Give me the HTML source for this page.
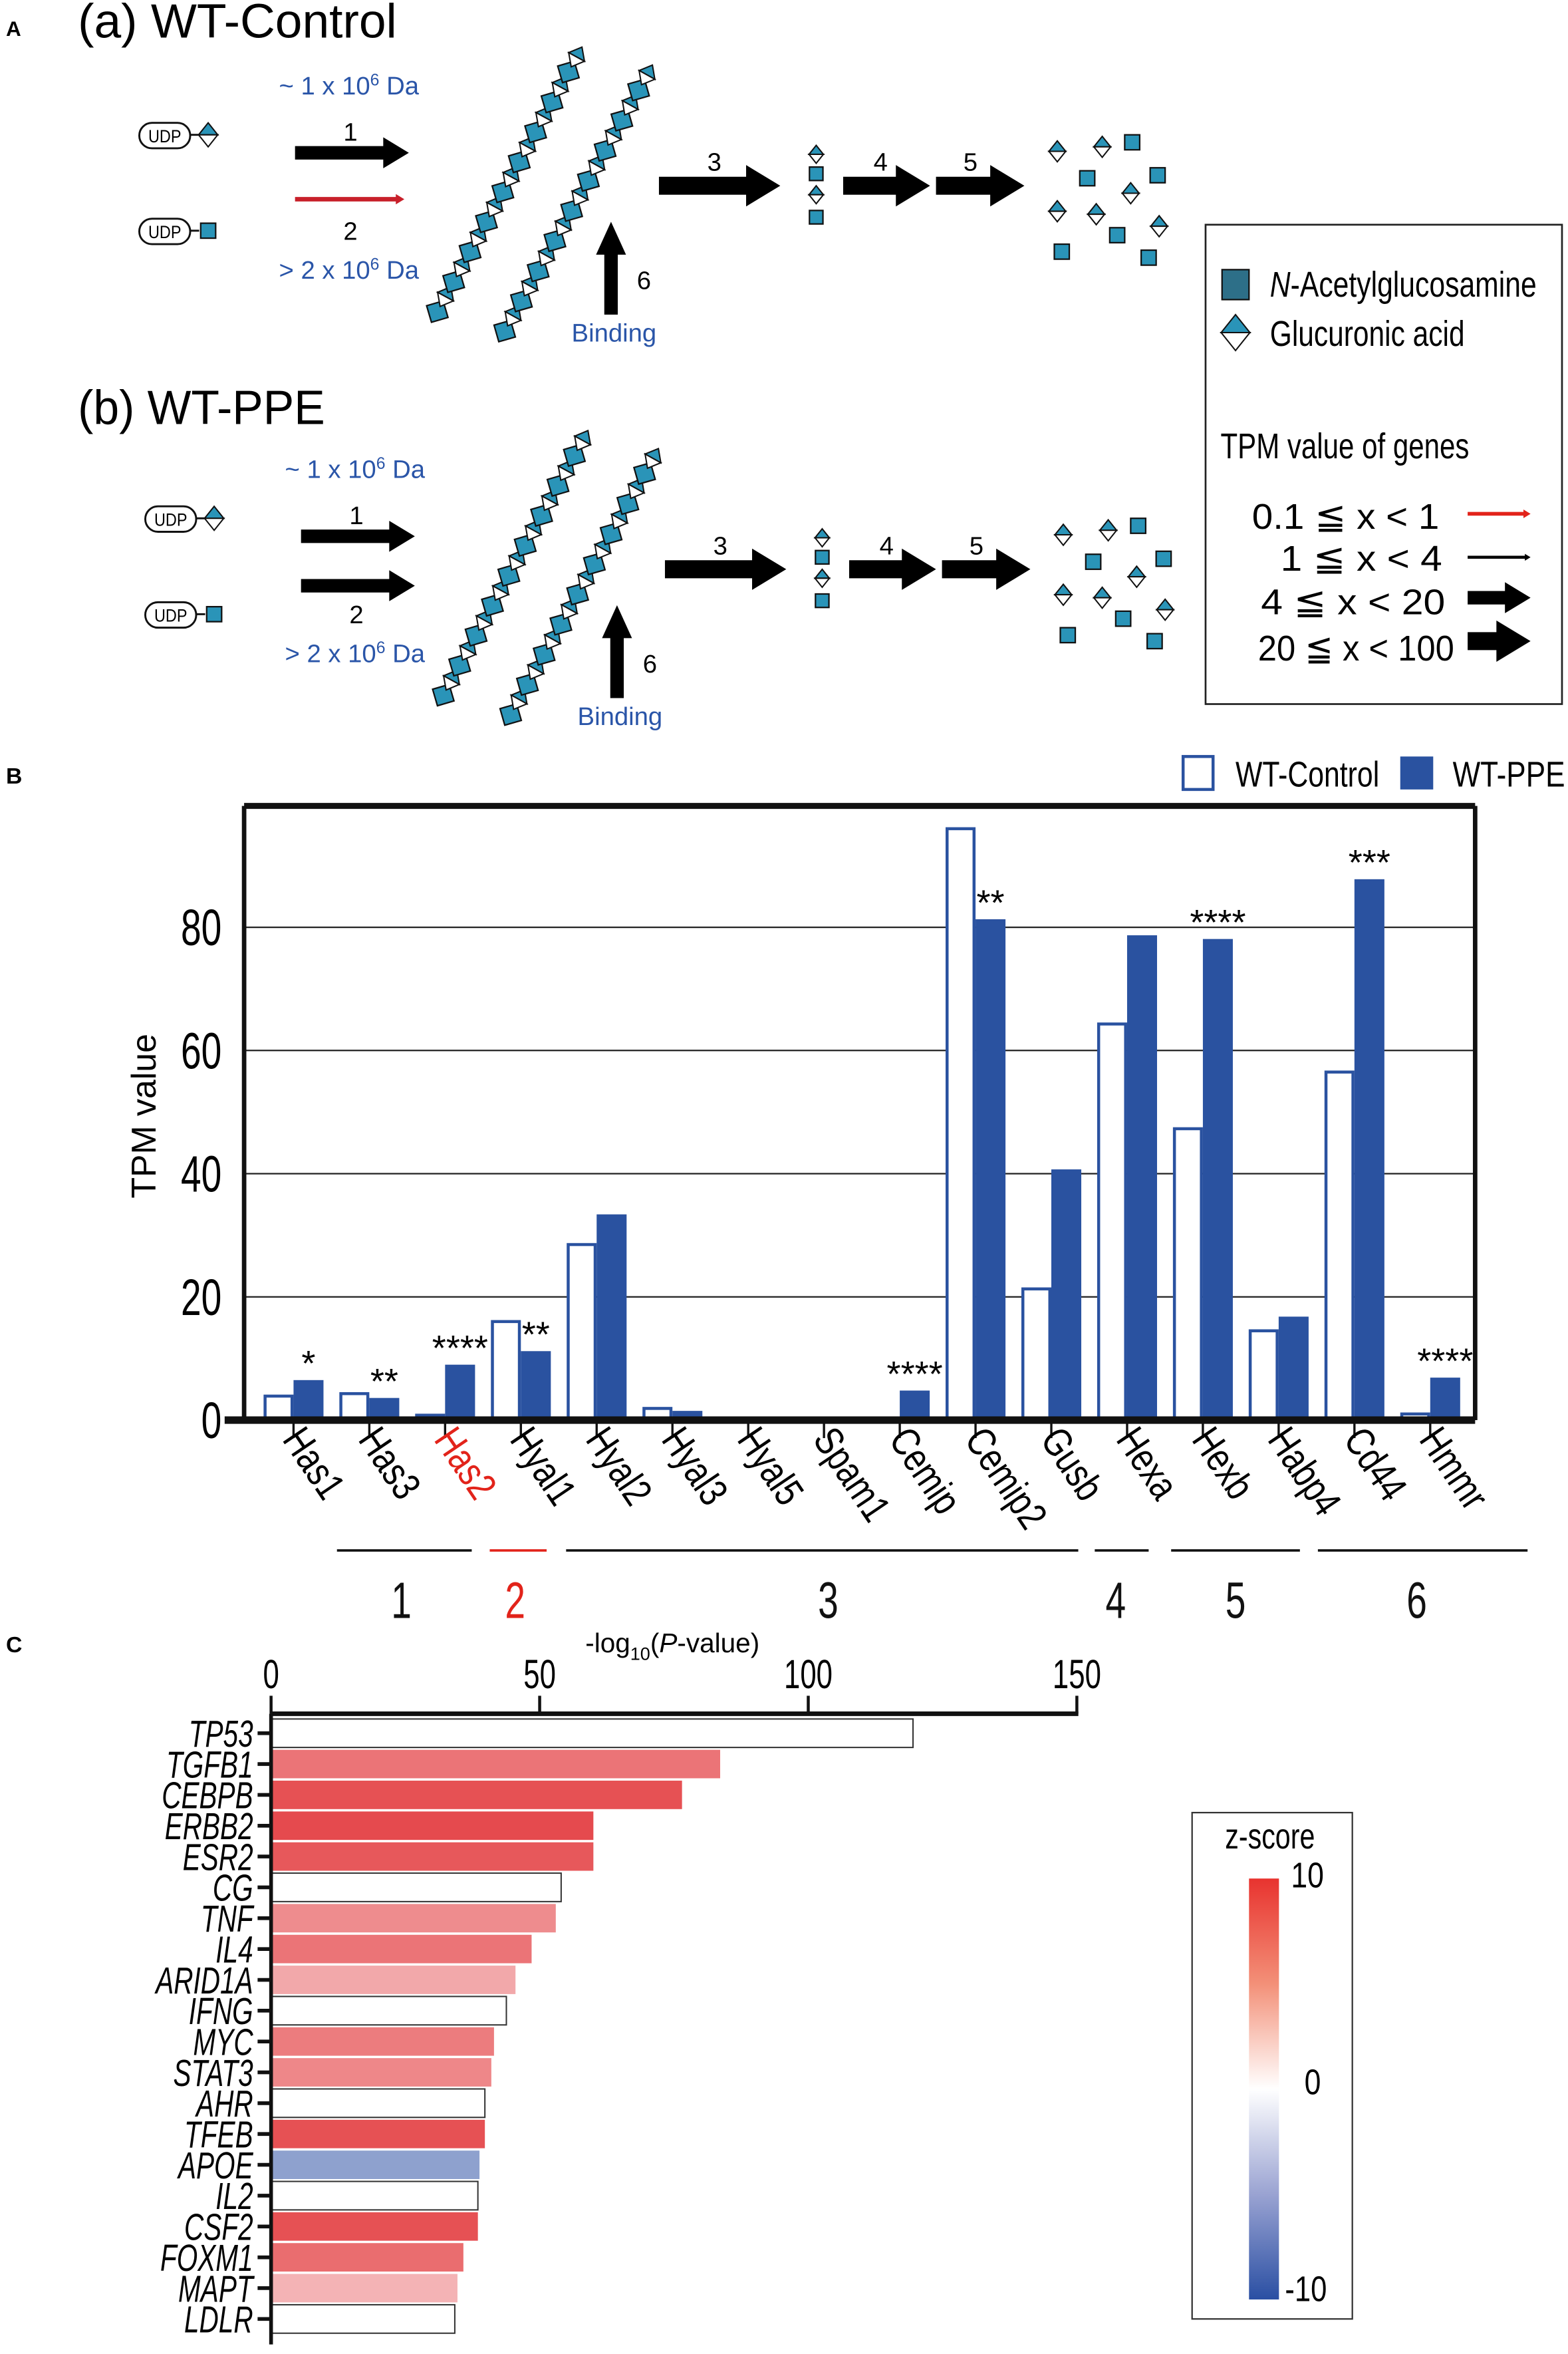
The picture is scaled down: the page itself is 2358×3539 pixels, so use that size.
<!DOCTYPE html>
<html><head><meta charset="utf-8">
<style>
html,body{margin:0;padding:0;background:#fff}
svg{display:block}
text{font-family:"Liberation Sans",sans-serif}
</style></head>
<body>
<svg id="fig" width="2358" height="3539" viewBox="0 0 1047 1571.4" xmlns="http://www.w3.org/2000/svg">
<g id="panelA">
<text x="4" y="24" font-size="14" font-weight="bold">A</text>
<text x="52" y="25" font-size="32" textLength="213" lengthAdjust="spacingAndGlyphs">(a) WT-Control</text>
<text x="52" y="283" font-size="32" textLength="165" lengthAdjust="spacingAndGlyphs">(b) WT-PPE</text>
<g id="legendA">
<rect x="805" y="150" width="238" height="320" fill="none" stroke="#222" stroke-width="1.2"/>
<rect x="816" y="180" width="18" height="20" fill="#2d6f88" stroke="#111" stroke-width="1"/>
<text x="848" y="198" font-size="24" textLength="178" lengthAdjust="spacingAndGlyphs"><tspan font-style="italic">N</tspan>-Acetylglucosamine</text>
<text x="848" y="231" font-size="24" textLength="130" lengthAdjust="spacingAndGlyphs">Glucuronic acid</text>
<text x="815" y="306" font-size="24" textLength="166" lengthAdjust="spacingAndGlyphs">TPM value of genes</text>
<text x="836" y="353" font-size="24" textLength="125" lengthAdjust="spacingAndGlyphs">0.1 ≦ x &lt;  1</text>
<text x="855" y="381" font-size="24" textLength="108" lengthAdjust="spacingAndGlyphs">1 ≦ x &lt;  4</text>
<text x="842" y="410" font-size="24" textLength="123" lengthAdjust="spacingAndGlyphs">4 ≦ x &lt; 20</text>
<text x="840" y="441" font-size="24" textLength="131" lengthAdjust="spacingAndGlyphs">20 ≦ x &lt; 100</text>
</g>
</g>
<g id="panelB">
<text x="4" y="523" font-size="15" font-weight="bold">B</text>
<rect x="790" y="505" width="20" height="22" fill="#fff" stroke="#2a52a0" stroke-width="2"/>
<text x="825" y="525" font-size="24" textLength="96" lengthAdjust="spacingAndGlyphs">WT-Control</text>
<rect x="935" y="505" width="22" height="22" fill="#2a52a0"/>
<text x="970" y="525" font-size="24" textLength="75" lengthAdjust="spacingAndGlyphs">WT-PPE</text>
<text transform="translate(104,745) rotate(-90)" text-anchor="middle" font-size="23">TPM value</text>
</g>
<g id="panelC">
<text x="4" y="1103" font-size="15" font-weight="bold">C</text>
<text x="449" y="1103" text-anchor="middle" font-size="18">-log<tspan font-size="12" dy="5">10</tspan><tspan dy="-5">(</tspan><tspan font-style="italic">P</tspan>-value)</text>
<defs><linearGradient id="zg" x1="0" y1="0" x2="0" y2="1">
<stop offset="0" stop-color="#e8332f"/><stop offset="0.25" stop-color="#f39078"/><stop offset="0.5" stop-color="#ffffff"/><stop offset="0.75" stop-color="#9aa3d2"/><stop offset="1" stop-color="#2a4fa3"/></linearGradient></defs>
<rect x="796" y="1210" width="107" height="338" fill="none" stroke="#333" stroke-width="1"/>
<text x="818" y="1234" font-size="24" textLength="60" lengthAdjust="spacingAndGlyphs">z-score</text>
<rect x="834" y="1254" width="20" height="281" fill="url(#zg)"/>
<text x="862" y="1260" font-size="24" textLength="22" lengthAdjust="spacingAndGlyphs">10</text>
<text x="871" y="1398" font-size="24" textLength="11" lengthAdjust="spacingAndGlyphs">0</text>
<text x="858" y="1536" font-size="24" textLength="28" lengthAdjust="spacingAndGlyphs">-10</text>
</g>
</svg>
<script>
const NS='http://www.w3.org/2000/svg';
const svg=document.getElementById('fig');
function mk(parent,tag,attrs,txt){const e=document.createElementNS(NS,tag);for(const k in attrs)e.setAttribute(k,attrs[k]);if(txt!==undefined)e.textContent=txt;parent.appendChild(e);return e;}
const TEAL='#2a94b8';

const pA=document.getElementById('panelA');
function diamond(g,cx,cy,s,rot){
  const grp=mk(g,'g',{transform:`translate(${cx},${cy}) rotate(${rot||0})`});
  
  
  mk(grp,'path',{d:`M${-s*0.8},0 L0,${-s} L${s*0.8},0 Z`,fill:TEAL,stroke:'#111','stroke-width':0.9});
  mk(grp,'path',{d:`M${-s*0.8},0 L0,${s} L${s*0.8},0 Z`,fill:'#fff',stroke:'#111','stroke-width':0.9});
}
function square(g,cx,cy,s,rot){
  const r=mk(g,'rect',{x:cx-s/2,y:cy-s/2,width:s,height:s,fill:TEAL,stroke:'#111','stroke-width':1,transform:`rotate(${rot||0},${cx},${cy})`});
  
  
}
function harrow(g,x1,x2,y,t,color,name){
  const hl=t*1.9, hh=t*2.3;
  const p=mk(g,'path',{d:`M${x1},${y-t/2} L${x2-hl},${y-t/2} L${x2-hl},${y-hh/2} L${x2},${y} L${x2-hl},${y+hh/2} L${x2-hl},${y+t/2} L${x1},${y+t/2} Z`,fill:color});
  
  
}
function varrow(g,x,y1,y2,t,name){
  const hl=22, hh=20;
  const p=mk(g,'path',{d:`M${x-t/2},${y1} L${x-t/2},${y2+hl} L${x-hh/2},${y2+hl} L${x},${y2} L${x+hh/2},${y2+hl} L${x+t/2},${y2+hl} L${x+t/2},${y1} Z`,fill:'#000'});
  
  
}
function label(g,x,y,s,txt,color,name,anchor){
  const t=mk(g,'text',{x:x,y:y,'font-size':s,fill:color||'#000','text-anchor':anchor||'middle'},txt);
  
  
  return t;
}
function udp(g,x,y,kind){
  const grp=mk(g,'g',{});
  
  
  mk(grp,'rect',{x:x,y:y-8,width:34,height:17,rx:8.5,fill:'#fff',stroke:'#111','stroke-width':1.3});
  mk(grp,'text',{x:x+17,y:y+5,'font-size':12,'text-anchor':'middle',textLength:22,lengthAdjust:'spacingAndGlyphs'},'UDP');
  mk(grp,'line',{x1:x+34,y1:y,x2:x+40,y2:y,stroke:'#111','stroke-width':1.3});
  if(kind==='d') diamond(grp,x+46,y,8,0); else square(grp,x+46,y,10,0);
}
function chain(g,x1,y1,x2,y2,n){
  const ang=Math.atan2(y2-y1,x2-x1)*180/Math.PI;
  mk(g,'line',{x1:x1,y1:y1,x2:x2,y2:y2,stroke:'#111','stroke-width':1});
  for(let i=0;i<n;i++){
    const f=i/(n-1), cx=x1+(x2-x1)*f, cy=y1+(y2-y1)*f;
    if(i%2===0) square(g,cx,cy,11.5,ang+45); else diamond(g,cx,cy,7.5,ang+90);
  }
}
const scatD=[[706,101],[736,98],[755,129],[706,141],[732,143],[774,151]];
const scatS=[[756,95],[726,119],[773,117],[746,157],[709,168],[767,172]];
function drawPathway(dx,dy,arrow2Black){
  const g=mk(pA,'g',{transform:`translate(${dx},${dy})`});
  
  
  udp(g,93,90,'d'); udp(g,93,154,'s');
  const t1=label(g,233,63,17,'','#2a55a8','mw-label-high');
  t1.innerHTML='~ 1 x 10<tspan font-size="11" dy="-6">6</tspan><tspan dy="6"> Da</tspan>';
  const t2=label(g,233,186,17,'','#2a55a8','mw-label-low');
  t2.innerHTML='&gt; 2 x 10<tspan font-size="11" dy="-6">6</tspan><tspan dy="6"> Da</tspan>';
  label(g,234,94,17,'1','#000','step-1-label');
  harrow(g,197,273,102,9,'#000','arrow-step-1');
  if(arrow2Black) harrow(g,197,273,135,9,'#000','arrow-step-2'); else harrow(g,197,270,133,3,'#c8202a','arrow-step-2');
  label(g,234,160,17,'2','#000','step-2-label');
  chain(g,292,208,385,38,18);
  chain(g,337,221,432,50,18);
  varrow(g,408,210,148,9,'arrow-step-6');
  label(g,430,193,17,'6','#000','step-6-label');
  label(g,410,228,17,'Binding','#2a55a8','binding-label');
  harrow(g,440,521,124,12,'#000','arrow-step-3');
  label(g,477,114,17,'3','#000','step-3-label');
  diamond(g,545,103,6,0); square(g,545,116,9,0); diamond(g,545,130,6,0); square(g,545,145,9,0);
  harrow(g,563,621,124,12,'#000','arrow-step-4');
  label(g,588,114,17,'4','#000','step-4-label');
  harrow(g,625,684,124,12,'#000','arrow-step-5');
  label(g,648,114,17,'5','#000','step-5-label');
  scatD.forEach(p=>diamond(g,p[0],p[1],7,0));
  scatS.forEach(p=>square(g,p[0],p[1],10,0));
}
drawPathway(0,0,false);
drawPathway(4,256,true);
const lg=document.getElementById('legendA');
diamond(lg,825,222,12,0);
harrow(lg,980,1022,343,2.5,'#e2231a','legend-arrow-1');
harrow(lg,980,1022,372,2,'#000','legend-arrow-2');
harrow(lg,980,1022,399,9,'#000','legend-arrow-3');
harrow(lg,980,1022,428,12,'#000','legend-arrow-4');

// ---------- Panel B chart ----------
const genes=['Has1','Has3','Has2','Hyal1','Hyal2','Hyal3','Hyal5','Spam1','Cemip','Cemip2','Gusb','Hexa','Hexb','Habp4','Cd44','Hmmr'];
const controlTPM=[3.9,4.3,0.8,16,28.5,1.9,0,0,0,96,21.3,64.3,47.3,14.5,56.5,1.0];
const ppeTPM=[6.5,3.6,9,11.2,33.4,1.5,0,0,4.8,81.3,40.7,78.7,78.1,16.8,87.8,6.9];
const stars=['*','**','****','**','','','','','****','**','','','****','','***','****'];
const yTicks=[0,20,40,60,80];
const groupNames=['1','2','3','4','5','6'];

const pB=document.getElementById('panelB');
const bx0=163,bx1=985,by0=948,byTop=538;
const yB=v=>by0-v*(948-619)/80;
const xB=i=>196+i*50.6;
yTicks.forEach(v=>{
  if(v>0){const l=mk(pB,'line',{x1:bx0,x2:bx1,y1:yB(v),y2:yB(v),stroke:'#222','stroke-width':1});
  
  }
  const t=mk(pB,'text',{x:0,y:0,'font-size':34,'text-anchor':'end',transform:`translate(148,${yB(v)+12}) scale(0.72,1)`},String(v));
  
  
});
genes.forEach((gname,i)=>{
  const x=xB(i);
  const c=mk(pB,'rect',{x:x-19,y:yB(controlTPM[i]),width:18,height:Math.max(0,by0-yB(controlTPM[i])),fill:'#fff',stroke:'#2a52a0','stroke-width':2});
  
  
  const p=mk(pB,'rect',{x:x,y:yB(ppeTPM[i]),width:20,height:Math.max(0,by0-yB(ppeTPM[i])),fill:'#2a52a0'});
  
  
  if(stars[i]){
    const s=mk(pB,'text',{x:x+10,y:yB(ppeTPM[i])-3,'font-size':24,'text-anchor':'middle'},stars[i]);
    
    
  }
  const tk=mk(pB,'line',{x1:x,x2:x,y1:by0,y2:by0+12,stroke:'#111','stroke-width':1.5});
  
  
  const lt=mk(pB,'text',{x:0,y:0,'font-size':27,fill:gname==='Has2'?'#e2231a':'#000',transform:`translate(${x-8},${by0+13}) rotate(56) scale(0.8,1)`},gname);
  
  
});
[[bx0,byTop,bx1,byTop,4],[bx0,byTop,bx0,by0,3],[bx1,byTop,bx1,by0,3],[150,by0,bx1,by0,5]].forEach((a,k)=>{
  const l=mk(pB,'line',{x1:a[0],y1:a[1],x2:a[2],y2:a[3],stroke:'#111','stroke-width':a[4]});
  
  
});
const gx1=[225,327,378,731,782,880], gx2=[315,365,720,767,868,1020], gnx=[268,344,553,745,825,946];
groupNames.forEach((n,k)=>{
  const col=n==='2'?'#e2231a':'#111';
  const l=mk(pB,'line',{x1:gx1[k],x2:gx2[k],y1:1035,y2:1035,stroke:col,'stroke-width':1.6});
  
  
  const t=mk(pB,'text',{x:0,y:0,'font-size':34,'text-anchor':'middle',fill:col,transform:`translate(${gnx[k]},1080) scale(0.72,1)`},n);
  
  
});

// ---------- Panel C chart ----------
const regulators=['TP53','TGFB1','CEBPB','ERBB2','ESR2','CG','TNF','IL4','ARID1A','IFNG','MYC','STAT3','AHR','TFEB','APOE','IL2','CSF2','FOXM1','MAPT','LDLR'];
const negLogP=[119.5,83.6,76.5,60,60,54,53,48.5,45.5,43.8,41.5,41,39.8,39.8,38.8,38.5,38.5,35.8,34.7,34.2];
const zScores=[null,5.5,8,8.5,7.5,null,4,5.5,2.5,null,5,4.3,null,8,-3.5,null,8,6,2,null];
const xTicksC=[0,50,100,150];

const pC=document.getElementById('panelC');
const cx0=181, cpx=3.587, cyTop=1144;
const xC=v=>cx0+v*cpx;
const yC=i=>1157+i*20.58;
function zColor(z){
  if(z===null) return '#fff';
  const f=Math.pow(Math.min(1,Math.abs(z)/10),0.6);
  const end=z>=0?[226,56,60]:[42,79,163];
  const c=end.map(e=>Math.round(255+(e-255)*f));
  return `rgb(${c[0]},${c[1]},${c[2]})`;
}
xTicksC.forEach(v=>{
  const l=mk(pC,'line',{x1:xC(v),x2:xC(v),y1:cyTop,y2:cyTop-12,stroke:'#111','stroke-width':2});
  
  
  const t=mk(pC,'text',{x:0,y:0,'font-size':27,'text-anchor':'middle',transform:`translate(${xC(v)},1127) scale(0.72,1)`},String(v));
  
  
});
regulators.forEach((r,i)=>{
  const y=yC(i), z=zScores[i];
  const b=mk(pC,'rect',{x:cx0,y:y-9.5,width:xC(negLogP[i])-cx0,height:19,fill:zColor(z),stroke:z===null?'#333':'none','stroke-width':0.9});
  
  
  const tk=mk(pC,'line',{x1:cx0-9,x2:cx0,y1:y,y2:y,stroke:'#111','stroke-width':2.5});
  
  
  const t=mk(pC,'text',{x:0,y:0,'font-size':25,'font-style':'italic','text-anchor':'end',transform:`translate(${cx0-12},${y+9}) scale(0.72,1)`},r);
  
  
});
const ax=mk(pC,'line',{x1:cx0,x2:xC(150)+1,y1:cyTop,y2:cyTop,stroke:'#111','stroke-width':3});


const ay=mk(pC,'line',{x1:cx0,x2:cx0,y1:cyTop,y2:1565,stroke:'#111','stroke-width':2.5});


</script>
</body></html>
